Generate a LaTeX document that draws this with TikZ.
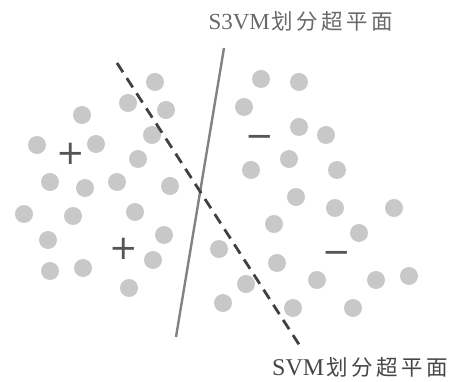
\documentclass[tikz,border=0pt]{standalone}
\usepackage{fontspec}
\setmainfont{Liberation Serif}
\newfontfamily\cjk{Noto Sans CJK SC}
\newfontfamily\symf{DejaVu Sans}
\definecolor{dotc}{RGB}{200,200,200}
\definecolor{signc}{RGB}{85,85,85}
\definecolor{solidc}{RGB}{130,130,130}
\definecolor{dashc}{RGB}{65,65,65}
\definecolor{lab1c}{RGB}{105,105,105}
\definecolor{lab2c}{RGB}{70,70,70}
\tikzset{
  dotpt/.style={fill=dotc},
  sign/.style={inner sep=0pt, text=signc, font=\symf\fontsize{34}{34}\selectfont},
  svmline/.style={draw=dashc, line width=2.8pt, dash pattern=on 11pt off 7pt},
  s3line/.style={draw=solidc, line width=2.4pt},
  lab/.style={inner sep=0pt}
}
\newcommand\cjkword[1]{{\cjk\fontsize{21.5}{21.5}\selectfont #1}}
\begin{document}
\begin{tikzpicture}[x=1pt,y=-1pt]
\useasboundingbox (0,0) rectangle (456,382);
\fill[white] (0,0) rectangle (456,382);
% dots
\foreach \x/\y in {155/82,128/103,166/110,82/115,152/135,37/145,96/144,138/159,
  50/182,85/188,117/182,170/186,24/214,73/216,135/212,48/240,164/235,50/271,
  83/268,153/260,129/288,
  261/79,299/82,244/107,299/127,326/135,251/170,289/159,337/170,296/197,335/208,
  394/208,274/224,359/233,219/249,277/263,246/284,317/280,376/280,409/276,
  223/303,293/308,353/308}
  \fill[dotpt] (\x,\y) circle (9);
% hyperplanes
\coordinate (s3a) at (224,48);
\coordinate (s3b) at (176,337);
\coordinate (sva) at (117,63);
\coordinate (svb) at (300,346);
\draw[s3line] (s3a) -- (s3b);
\draw[svmline] (sva) -- (svb);
% class signs
\node[sign] (p1) at (71,154) {+};
\node[sign] (p2) at (124,249) {+};
\node[sign] (m1) at (260,141) {−};
\node[sign] (m2) at (337,257) {−};
% labels
\node[lab, text=lab1c] (l1) at (301,21) {\fontsize{23}{23}\selectfont S3VM\hspace{2pt}\cjkword{划\hspace{3.5pt}分\hspace{3.5pt}超\hspace{3.5pt}平\hspace{3.5pt}面}};
\node[lab, text=lab2c] (l2) at (360,367) {\fontsize{24}{24}\selectfont SVM\hspace{2pt}\cjkword{划\hspace{3.5pt}分\hspace{3.5pt}超\hspace{3.5pt}平\hspace{3.5pt}面}};
\end{tikzpicture}
\end{document}
